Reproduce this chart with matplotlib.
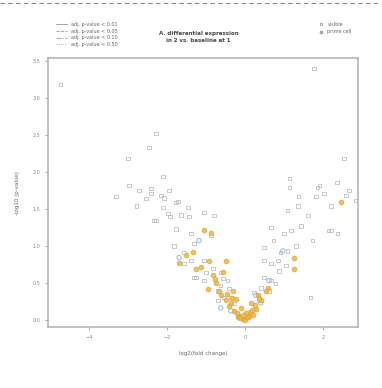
import matplotlib
matplotlib.use("Agg")
import matplotlib.pyplot as plt
from matplotlib.lines import Line2D

# grey points (log2 fold change, -log10 p-value)
grey_x = [-4.74, -2.28, -2.46, -3.00, -2.10, -2.41, -2.41, -3.31, -2.08, -1.95,
          -1.72, -2.10, -1.46, -1.92, -1.64, -1.44, -1.05, -0.79, -2.28, -1.77,
          -0.87, -1.82, -1.31, -1.56, -1.05, -1.38, -0.82, -1.00, -0.62, -1.26,
          -0.56, -0.44, -0.62, -0.41, -0.54, -0.36, -0.28, -0.69, -2.15, -1.77,
          -1.97, -2.33, -1.38, -1.56, -1.31, -1.05, -0.69, -2.72, -2.97, -2.54,
          -2.79,
          1.77, 2.54, 1.15, 1.15, 1.92, 2.36, 2.67, 1.38, 1.82, 2.15,
          2.38, 1.74, 1.69, 0.49, 0.67, 0.85, 0.92, 1.10, 0.87, 0.49,
          0.67, 0.41, 0.23, 1.00, 1.18, 0.74, 0.49, 0.67, 1.10, 1.36,
          1.87, 2.03, 2.21, 0.62, 0.79, 0.36, 1.05, 1.31, 1.44, 1.62,
          2.21, 2.59, 2.85]
grey_y = [3.18, 2.52, 2.33, 2.18, 1.94, 1.78, 1.71, 1.67, 1.65, 1.75,
          1.60, 1.52, 1.52, 1.40, 1.42, 1.40, 1.45, 1.41, 1.34, 1.23,
          1.14, 1.00, 1.03, 0.91, 0.80, 0.80, 0.69, 0.64, 0.64, 0.57,
          0.56, 0.53, 0.46, 0.42, 0.30, 0.30, 0.22, 0.26, 1.68, 1.59,
          1.44, 1.34, 1.17, 0.76, 0.57, 0.53, 0.39, 1.75, 1.82, 1.64,
          1.54,
          3.40, 2.18, 1.91, 1.79, 1.82, 1.86, 1.75, 1.67, 1.67, 1.21,
          1.17, 1.07, 0.30, 0.80, 0.76, 0.80, 0.91, 0.93, 0.66, 0.57,
          0.53, 0.43, 0.37, 1.17, 1.21, 1.07, 0.98, 1.25, 1.48, 1.54,
          1.79, 1.71, 1.21, 0.39, 0.49, 0.26, 0.73, 1.00, 1.27, 1.41,
          1.54, 1.68, 1.61]

orange_x = [-1.05, -0.87, -1.33, -0.49, -0.92, -0.56, -0.95, -0.31, -0.23, -0.10,
            0.03, 0.08, -0.15, 0.15, 0.33, 0.54, 0.59, 1.26, 1.26, 2.46,
            -1.51, -0.49, -0.41, -0.28, -0.05, 0.00, 0.21, 0.28, 0.41, -0.74,
            -0.62, -1.69, -1.26, -0.82, -0.21, 0.10, -0.36, -0.67, -0.18, -0.12,
            -0.06, 0.05, 0.12, 0.18, -0.33, -0.45, 0.25, 0.36, -0.78, -1.12]
orange_y = [1.21, 1.18, 0.91, 0.79, 0.80, 0.64, 0.42, 0.39, 0.28, 0.16,
            0.09, 0.03, 0.05, 0.22, 0.33, 0.39, 0.43, 0.83, 0.69, 1.59,
            0.87, 0.26, 0.19, 0.12, 0.01, 0.00, 0.07, 0.15, 0.26, 0.50,
            0.33, 0.77, 0.69, 0.60, 0.09, 0.05, 0.22, 0.39, 0.03, 0.02,
            0.06, 0.04, 0.10, 0.13, 0.30, 0.35, 0.20, 0.30, 0.55, 0.72]

blue_x = [-1.69, -0.62, 0.41, 0.97, -0.36, 0.62, -1.18, 0.28]
blue_y = [0.84, 0.16, 0.23, 0.93, 0.12, 0.53, 1.07, 0.33]

pval_labels = ["adj. p-value < 0.01", "adj. p-value < 0.05",
               "adj. p-value < 0.10", "adj. p-value < 0.50"]
group_labels = ["visible", "prime cell"]

fig = plt.figure(figsize=(3.82, 3.88), dpi=100)
ax = fig.add_axes([0.126, 0.157, 0.811, 0.693])

ax.scatter(grey_x, grey_y, s=6, marker="s", facecolors="none",
           edgecolors="#b4b4b4", linewidths=0.5)
ax.scatter(blue_x, blue_y, s=10, marker="o", facecolors="none",
           edgecolors="#9bb8dc", linewidths=0.7)
ax.scatter(orange_x, orange_y, s=12, marker="o", facecolors="#edb643",
           edgecolors="#dca030", linewidths=0.5, alpha=0.85)

ax.set_xlim(-5.05, 2.9)
ax.set_ylim(-0.1, 3.54)
ax.set_xticks([-4, -2, 0, 2])
ax.set_yticks([0, 0.5, 1.0, 1.5, 2.0, 2.5, 3.0, 3.5])
ax.set_yticklabels(["%.1f" % v for v in ax.get_yticks()])
ax.tick_params(labelsize=3.5, colors="#888888", length=2.5, width=0.5, pad=3)
for s in ax.spines.values():
    s.set_color("#b0b0b0")
    s.set_linewidth(1.1)
ax.set_xlabel("log2(fold change)", fontsize=4, color="#666666", labelpad=8)
ax.set_ylabel("-log10 (p-value)", fontsize=4, color="#666666", labelpad=9)

# p-value legend (top left)
styles = ["-", "--", "-.", ":"]
handles = [Line2D([0], [0], color="#999999", lw=0.6, ls=st) for st in styles]
fig.legend(handles, pval_labels, loc="upper left", bbox_to_anchor=(0.135, 0.955),
           fontsize=3.5, frameon=False, handlelength=2.2, labelspacing=0.35,
           labelcolor="#666666")

fig.text(0.52, 0.905, "A. differential expression\nin 2 vs. baseline at 1",
         ha="center", va="center", fontsize=4, fontweight="bold", color="#444444",
         linespacing=1.4)

gh = [Line2D([0], [0], marker="s", ls="", ms=2, mfc="none", mec="#999999", mew=0.6),
      Line2D([0], [0], marker="o", ls="", ms=2, mfc="#aaaaaa", mec="#999999", mew=0.6)]
fig.legend(gh, group_labels, loc="upper left", bbox_to_anchor=(0.815, 0.955),
           fontsize=3.5, frameon=False, handletextpad=0.4, labelspacing=0.5,
           labelcolor="#666666")

fig.add_artist(Line2D([0, 1], [0.993, 0.993], transform=fig.transFigure,
                      color="#888888", lw=0.8, ls=(0, (4, 3))))

fig.savefig("out.png", dpi=100)
